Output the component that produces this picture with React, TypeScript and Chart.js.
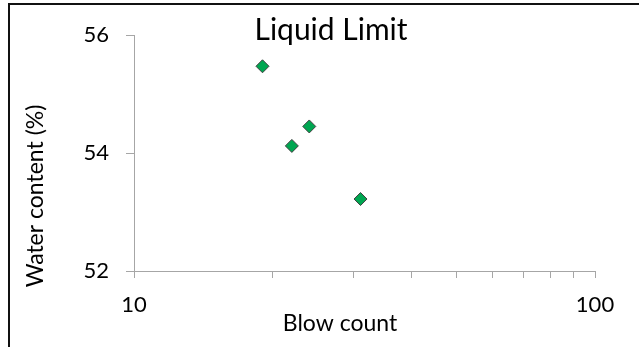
import React, { useEffect, useRef } from "react";
import { Chart, registerables } from "chart.js";

Chart.register(...registerables);

const blowCounts = [19, 24, 22, 31];
const waterContent = [55.47, 54.45, 54.12, 53.22];
const xTickValues = [10, 20, 30, 40, 50, 60, 70, 80, 90, 100];
const xLabeled = [10, 100];
const yTickValues = [52, 54, 56];
const titleText = "Liquid Limit";
const xTitle = "Blow count";
const yTitle = "Water content (%)";

const FONT = "Lato";

export default function App() {
  const ref = useRef<HTMLCanvasElement | null>(null);
  useEffect(() => {
    document.body.style.margin = "0";
    const canvas = ref.current!;
    const decor = {
      id: "decor",
      afterDraw(chart: any) {
        const ctx = chart.ctx;
        ctx.save();
        // frame
        ctx.strokeStyle = "#111";
        ctx.lineWidth = 2;
        ctx.beginPath();
        ctx.moveTo(9, 400);
        ctx.lineTo(9, 4);
        ctx.lineTo(700, 4);
        ctx.stroke();
        ctx.fillStyle = "#000";
        ctx.textAlign = "center";
        ctx.textBaseline = "alphabetic";
        ctx.font = `30px ${FONT}`;
        ctx.fillText(titleText, 331, 40);
        ctx.font = `23px ${FONT}`;
        ctx.fillText(xTitle, 340, 331);
        ctx.translate(43, 196);
        ctx.rotate(-Math.PI / 2);
        ctx.fillText(yTitle, 0, 0);
        ctx.restore();
      },
    };
    const chart = new Chart(canvas, {
      type: "scatter",
      data: {
        datasets: [
          {
            data: blowCounts.map((x, i) => ({ x, y: waterContent[i] })),
            pointStyle: "rectRot",
            pointRadius: 6.5,
            pointHoverRadius: 6.5,
            backgroundColor: "#00a651",
            borderColor: "#404040",
            borderWidth: 1,
          },
        ],
      },
      options: {
        animation: false,
        responsive: false,
        layout: { padding: { top: 35, right: 44, left: 0, bottom: 0 } },
        plugins: { legend: { display: false }, tooltip: { enabled: false } },
        scales: {
          x: {
            type: "logarithmic",
            min: 10,
            max: 100,
            afterBuildTicks: (s: any) => {
              s.ticks = xTickValues.map((v) => ({ value: v }));
            },
            afterFit: (s: any) => {
              s.height = 76;
            },
            ticks: {
              autoSkip: false,
              maxRotation: 0,
              padding: 14,
              color: "#000",
              font: { family: FONT, size: 22 },
              callback: (v: any) => (xLabeled.includes(Number(v)) ? String(v) : ""),
            },
            grid: { drawOnChartArea: false, tickLength: 7, color: "#a6a6a6" },
            border: { color: "#a6a6a6" },
          },
          y: {
            min: 52,
            max: 56,
            afterBuildTicks: (s: any) => {
              s.ticks = yTickValues.map((v) => ({ value: v }));
            },
            afterFit: (s: any) => {
              s.width = 134;
            },
            ticks: {
              padding: 17,
              color: "#000",
              font: { family: FONT, size: 22 },
            },
            grid: { drawOnChartArea: false, tickLength: 8, color: "#a6a6a6" },
            border: { color: "#a6a6a6" },
          },
        },
      },
      plugins: [decor],
    });
    return () => chart.destroy();
  }, []);
  return (
    <div style={{ position: "fixed", left: 0, top: 0, width: 639, height: 347, background: "#fff" }}>
      <canvas ref={ref} width={639} height={347} style={{ display: "block" }} />
    </div>
  );
}
